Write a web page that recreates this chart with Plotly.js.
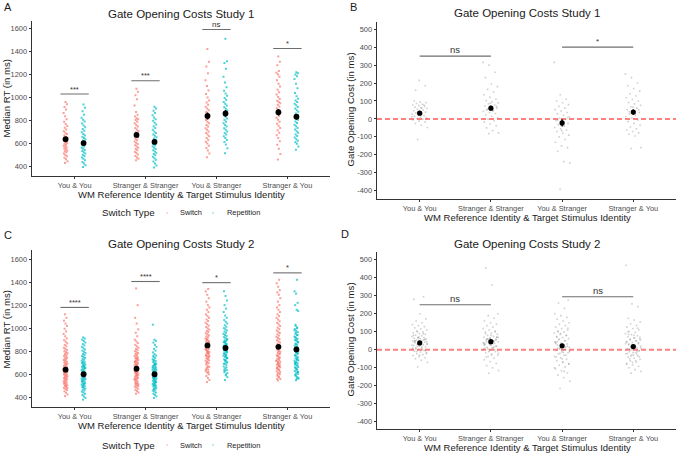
<!DOCTYPE html>
<html>
<head>
<meta charset="utf-8">
<script src="https://cdn.plot.ly/plotly-3.0.1.min.js"></script>
<style>
  html, body { margin: 0; padding: 0; background: #ffffff; }
  #chart { width: 677px; height: 453px; }
</style>
</head>
<body>
<div id="chart"></div>
<script>
// ---------- categories and tick labels ----------
const categories = ["You & You", "Stranger & Stranger", "You & Stranger", "Stranger & You"];
const rtTickVals = [400, 600, 800, 1000, 1200, 1400, 1600];
const rtTickText = ["400", "600", "800", "1000", "1200", "1400", "1600"];
const costTickVals = [-400, -300, -200, -100, 0, 100, 200, 300, 400, 500];
const costTickText = ["-400", "-300", "-200", "-100", "0", "100", "200", "300", "400", "500"];

// ---------- Study 1: median RT per participant (ms) ----------
const s1SwitchYY = [432,448,465,478,490,502,515,524,533,541,550,558,566,574,582,590,598,606,615,624,632,641,650,660,671,683,695,708,722,737,752,770,790,812,838,866,896,918,942,960];
const s1RepYY    = [396,412,428,441,455,468,480,492,503,514,525,535,545,555,565,574,583,592,601,610,619,628,638,648,659,671,684,698,712,727,742,758,775,792,808,825,850,880,912,940];
const s1SwitchSS = [456,468,480,492,505,518,530,542,553,564,575,586,597,608,619,630,641,652,663,674,686,698,710,722,735,748,762,776,790,805,812,820,835,850,875,930,985,1020,1050,1075];
const s1RepSS    = [392,410,428,445,460,474,487,499,510,521,532,543,554,564,574,584,594,604,614,624,634,645,656,668,680,693,706,720,735,750,766,782,798,812,826,845,866,885,905,920];
const s1SwitchYS = [482,515,540,562,582,600,616,632,648,663,678,692,706,720,734,748,762,776,790,804,818,832,846,860,875,890,905,920,938,956,975,1000,1030,1060,1100,1150,1210,1270,1310,1420];
const s1RepYS    = [516,560,592,615,632,648,663,678,692,706,720,734,748,762,776,790,804,818,832,846,860,874,888,902,916,930,945,960,978,996,1015,1035,1058,1090,1130,1180,1250,1300,1315,1510];
const s1SwitchSY = [462,510,555,590,620,648,672,694,715,735,754,772,790,808,825,842,858,874,890,906,922,938,950,960,972,988,1005,1025,1045,1068,1095,1120,1150,1180,1200,1215,1230,1280,1310,1355];
const s1RepSY    = [546,575,598,612,625,638,652,666,680,694,708,722,736,750,764,778,792,806,820,834,848,862,876,890,904,918,932,946,960,975,990,1010,1040,1080,1120,1160,1185,1200,1210,1220];

// Study 1: gate opening cost per participant (ms)
const s1CostYY = [-115,-48,-35,-25,-18,-12,-6,-2,2,6,10,14,18,22,26,30,34,38,42,46,50,54,58,62,66,70,74,78,82,86,90,95,100,78,40,12,60,160,185,215];
const s1CostSS = [-82,-78,-65,-50,-38,-28,-18,-10,-2,6,14,22,30,36,42,48,54,60,66,72,78,84,90,96,102,110,120,135,150,165,180,195,230,260,300,315,45,50,70,88];
const s1CostYS = [-392,-245,-238,-180,-160,-150,-130,-115,-100,-90,-80,-70,-62,-55,-48,-40,-32,-25,-18,-10,-3,4,12,20,28,36,44,52,60,70,80,90,100,110,135,315,-20,-5,8,-65];
const s1CostSY = [-165,-160,-95,-85,-78,-70,-62,-55,-45,-35,-25,-15,-5,5,12,20,28,36,44,52,60,68,76,84,92,100,108,118,128,140,155,170,185,200,230,250,30,40,50,65];

// ---------- Study 2: median RT per participant (ms) ----------
const s2SwitchYY = [410,425,440,452,463,473,482,490,498,505,512,519,526,532,538,544,550,556,562,567,572,577,582,587,592,597,602,607,612,617,622,627,632,637,642,647,652,657,662,668,674,680,686,692,698,704,710,717,724,731,738,745,752,760,768,776,784,792,800,810,820,830,842,855,868,882,896,912,930,950,972,995,1020,1040,1065,1090,1120,480,500,520];
const s2RepYY    = [380,395,408,420,431,441,450,459,467,475,482,489,496,503,510,516,522,528,534,540,546,552,558,564,570,576,582,588,594,600,606,612,618,624,630,636,642,648,654,660,666,672,678,684,690,697,704,711,718,726,734,742,750,758,767,776,785,795,805,815,826,838,850,862,875,888,900,910,920,560,575,590,605,620,540,515,495,655,670,700];
const s2SwitchSS = [430,442,454,465,475,484,492,500,508,515,522,529,536,543,550,556,562,568,574,580,586,592,598,604,610,616,622,628,634,640,646,652,658,664,670,676,682,688,694,700,706,712,718,725,732,739,746,753,760,768,776,784,792,800,810,820,830,842,855,870,885,900,930,960,990,1040,1090,1200,1345,560,590,620,650,680,710,740,520,500,600,630];
const s2RepSS    = [395,408,420,431,441,450,458,466,474,481,488,495,502,508,514,520,526,532,538,544,550,556,562,568,574,580,586,592,598,604,610,616,622,628,634,640,646,652,658,664,670,677,684,691,698,706,714,722,730,740,750,762,775,790,805,820,838,855,875,890,900,1030,540,560,580,600,620,500,470,660,690,720,610,590,570,530,510,640,680,760];
const s2SwitchYS = [532,550,568,585,600,614,627,640,652,664,675,686,697,708,718,728,738,748,757,766,775,784,793,802,811,820,829,838,847,856,865,874,883,892,901,910,919,928,937,946,956,966,976,987,998,1010,1022,1035,1048,1062,1076,1090,1105,1120,1140,1160,1180,1200,1230,1260,1290,1320,1340,700,720,740,760,780,800,820,840,860,880,660,640,620,900,760,790,815];
const s2RepYS    = [550,575,598,618,636,652,667,681,694,706,718,729,740,750,760,770,779,788,797,806,815,824,833,842,851,860,869,878,887,896,905,914,923,932,941,950,960,970,980,990,1000,1012,1025,1040,1055,1070,1090,1110,1140,1170,1200,1240,1280,1320,700,720,740,760,780,800,820,840,860,880,900,760,780,800,820,840,860,880,740,720,690,660,630,610,590,640];
const s2SwitchSY = [546,560,574,588,601,614,626,638,650,661,672,683,694,705,715,725,735,745,755,765,775,785,795,805,815,825,835,845,855,865,875,885,895,905,915,925,935,946,957,968,980,992,1005,1018,1032,1046,1060,1075,1090,1105,1120,1140,1160,1180,1200,1230,1260,1290,1310,1330,1360,1390,1420,600,620,640,660,680,700,720,740,760,780,800,650,670,690,710,580,560];
const s2RepSY    = [548,562,576,590,603,616,628,640,652,663,674,685,696,707,717,727,737,747,757,767,777,787,797,807,817,827,837,847,857,867,877,887,897,907,917,928,940,952,965,978,992,1006,1020,1150,1160,1200,1220,1300,1320,1420,600,620,640,660,680,700,720,740,760,780,800,820,840,860,880,900,920,940,960,980,1000,1030,620,650,700,730,590,570,560,690];

// Study 2: gate opening cost per participant (ms)
const s2CostYY = [-95,-70,-58,-50,-44,-38,-32,-27,-22,-17,-12,-8,-4,0,4,8,12,16,20,24,28,31,34,37,40,43,46,49,52,55,58,61,64,67,70,74,78,82,86,90,95,100,105,110,116,122,128,134,140,150,160,172,200,280,295,20,30,40,50,60,70,10,0,-10,-20,35,45,55,65,25,15,5,-5,-30,80,90,100,45,38,50];
const s2CostSS = [-130,-115,-100,-88,-76,-65,-55,-46,-38,-30,-23,-16,-10,-4,2,8,14,20,25,30,35,40,45,50,55,60,65,70,75,80,86,92,98,104,110,118,126,134,142,150,160,175,190,200,360,455,20,30,40,50,60,70,80,10,0,-10,-20,35,45,55,65,25,15,5,-5,-30,90,100,45,38,50,60,70,28,33,48,58,68,12,-40];
const s2CostYS = [-215,-175,-155,-140,-128,-116,-105,-95,-86,-77,-68,-60,-52,-44,-37,-30,-23,-16,-10,-4,2,8,14,20,26,32,38,44,50,56,62,68,74,80,86,92,98,104,110,118,126,134,142,150,160,170,180,190,200,230,260,275,-50,-40,-30,-20,-10,0,10,20,30,40,50,60,-80,-70,70,80,90,-100,-120,100,120,25,35,15,5,-5,-15,45];
const s2CostSY = [-130,-120,-110,-100,-92,-84,-76,-68,-61,-54,-47,-40,-34,-28,-22,-16,-10,-5,0,5,10,15,20,25,30,35,40,45,50,55,60,66,72,78,84,90,96,102,110,118,126,135,145,155,165,175,240,255,470,-60,-50,-40,-30,-20,-10,0,10,20,30,40,-70,-80,50,60,70,80,100,120,25,35,15,5,-5,-15,45,-25,-35,55,65,85];

// ---------- group means and standard errors (ms) ----------
const s1MeanSwitch = [638, 675, 840, 872];
const s1SeSwitch   = [18, 22, 30, 28];
const s1MeanRep    = [605, 615, 862, 833];
const s1SeRep      = [17, 19, 30, 24];
const s1MeanCost   = [32, 60, -22, 38];
const s1SeCost     = [11, 13, 20, 15];
const s2MeanSwitch = [640, 648, 850, 838];
const s2SeSwitch   = [14, 15, 18, 19];
const s2MeanRep    = [600, 600, 828, 815];
const s2SeRep      = [12, 13, 16, 18];
const s2MeanCost   = [38, 45, 22, 18];
const s2SeCost     = [8, 10, 11, 10];

// ---------- significance brackets ----------
const s1RtSigY     = [1030, 1145, 1590, 1425];
const s1RtSigLabel = ["***", "***", "ns", "*"];
const s2RtSigY     = [1180, 1405, 1395, 1480];
const s2RtSigLabel = ["****", "****", "*", "*"];
const costSigPairs = [[1, 2], [3, 4]];
const s1CostSigY     = [350, 400];
const s1CostSigLabel = ["ns", "*"];
const s2CostSigY     = [250, 295];
const s2CostSigLabel = ["ns", "ns"];

// ---------- drawing ----------
const W = 677, H = 453;
const FONT = "Liberation Sans, Arial, Helvetica, sans-serif";
const RED = "#F8766D", TEAL = "#00BFC4";
const px = v => v / W;
const py = v => 1 - v / H;

// deterministic spread of points around a position (golden-ratio sequence)
function spread(i, half) {
  const f = (i * 0.6180339887 + 0.37) % 1;
  return (f - 0.5) * 2 * half;
}

function pointTrace(groups, offset, half, axes, marker, name) {
  const x = [], y = [];
  groups.forEach((vals, c) => {
    vals.forEach((v, i) => { x.push(c + 1 + offset + spread(i, half)); y.push(v); });
  });
  return { type: "scatter", mode: "markers", x, y, xaxis: axes[0], yaxis: axes[1],
           marker, name, showlegend: false, hoverinfo: "y" };
}

function meanTrace(means, ses, offset, axes, size) {
  return { type: "scatter", mode: "markers",
           x: means.map((_, c) => c + 1 + offset), y: means,
           error_y: { type: "data", array: ses, visible: true, color: "#000", thickness: 1.4, width: 0 },
           marker: { color: "#000", size: size },
           xaxis: axes[0], yaxis: axes[1], showlegend: false, hoverinfo: "y" };
}

function bracketTrace(x0, x1, yv, axes) {
  return { type: "scatter", mode: "lines", x: [x0, x1], y: [yv, yv],
           line: { color: "#6e6e6e", width: 1.1 }, xaxis: axes[0], yaxis: axes[1],
           showlegend: false, hoverinfo: "skip" };
}

const DODGE = 0.127;
const ptRed  = { color: RED,  size: 2, symbol: "square", opacity: 0.7, line: { width: 0 } };
const ptTeal = { color: TEAL, size: 2, symbol: "square", opacity: 0.7, line: { width: 0 } };
const ptGray = { color: "#8a8a8a", size: 1.6, symbol: "square", opacity: 0.4, line: { width: 0 } };

const traces = [];
const annotations = [];

// RT panels (A and C)
[
  { axes: ["x", "y"], sw: [s1SwitchYY, s1SwitchSS, s1SwitchYS, s1SwitchSY], rp: [s1RepYY, s1RepSS, s1RepYS, s1RepSY],
    mS: s1MeanSwitch, eS: s1SeSwitch, mR: s1MeanRep, eR: s1SeRep, sigY: s1RtSigY, sigL: s1RtSigLabel },
  { axes: ["x3", "y3"], sw: [s2SwitchYY, s2SwitchSS, s2SwitchYS, s2SwitchSY], rp: [s2RepYY, s2RepSS, s2RepYS, s2RepSY],
    mS: s2MeanSwitch, eS: s2SeSwitch, mR: s2MeanRep, eR: s2SeRep, sigY: s2RtSigY, sigL: s2RtSigLabel }
].forEach(p => {
  traces.push(pointTrace(p.sw, -DODGE, 0.028, p.axes, ptRed, "Switch"));
  traces.push(pointTrace(p.rp, DODGE, 0.028, p.axes, ptTeal, "Repetition"));
  traces.push(meanTrace(p.mS, p.eS, -DODGE, p.axes, 5.8));
  traces.push(meanTrace(p.mR, p.eR, DODGE, p.axes, 5.8));
  p.sigY.forEach((v, c) => {
    traces.push(bracketTrace(c + 1 - 0.2, c + 1 + 0.2, v, p.axes));
    annotations.push({ xref: p.axes[0], yref: p.axes[1], x: c + 1, y: v, yanchor: "bottom", yshift: -1.5,
                       text: p.sigL[c], showarrow: false, font: { family: FONT, size: p.sigL[c] === "ns" ? 8 : 7.5, color: "#333" } });
  });
});

// Cost panels (B and D)
[
  { axes: ["x2", "y2"], pts: [s1CostYY, s1CostSS, s1CostYS, s1CostSY], m: s1MeanCost, e: s1SeCost, sigY: s1CostSigY, sigL: s1CostSigLabel },
  { axes: ["x4", "y4"], pts: [s2CostYY, s2CostSS, s2CostYS, s2CostSY], m: s2MeanCost, e: s2SeCost, sigY: s2CostSigY, sigL: s2CostSigLabel }
].forEach(p => {
  traces.push(pointTrace(p.pts, 0, 0.11, p.axes, ptGray, "Cost"));
  traces.push(meanTrace(p.m, p.e, 0, p.axes, 5.2));
  costSigPairs.forEach((pair, k) => {
    traces.push(bracketTrace(pair[0], pair[1], p.sigY[k], p.axes));
    annotations.push({ xref: p.axes[0], yref: p.axes[1], x: (pair[0] + pair[1]) / 2, y: p.sigY[k], yanchor: "bottom", yshift: -1,
                       text: p.sigL[k], showarrow: false, font: { family: FONT, size: p.sigL[k] === "ns" ? 9.5 : 8, color: "#333" } });
  });
});

function xAxis(d0, d1, anchor) {
  return { domain: [px(d0), px(d1)], anchor, range: [0.4, 4.6], tickmode: "array",
           tickvals: [1, 2, 3, 4], ticktext: categories, showline: true, linecolor: "#333", linewidth: 1,
           ticks: "outside", ticklen: 2, tickwidth: 1, tickcolor: "#333", showgrid: false, zeroline: false,
           tickfont: { family: FONT, size: 7.4, color: "#4d4d4d" }, fixedrange: true };
}
function yAxis(top, bottom, range, vals, text, anchor) {
  return { domain: [py(bottom), py(top)], anchor, range, tickmode: "array", tickvals: vals, ticktext: text,
           showline: true, linecolor: "#333", linewidth: 1, ticks: "outside", ticklen: 2.5, tickwidth: 1,
           tickcolor: "#333", showgrid: false, zeroline: false,
           tickfont: { family: FONT, size: 7.4, color: "#4d4d4d" }, fixedrange: true };
}

const AX = { l: 32, r: 330 }, BX = { l: 377, r: 676 };

// panel titles, letters and axis titles
function label(text, xpx, ypx, size, extra) {
  annotations.push(Object.assign({ xref: "paper", yref: "paper", x: px(xpx), y: py(ypx), text, showarrow: false,
                                   xanchor: "center", yanchor: "middle", font: { family: FONT, size, color: "#1a1a1a" } }, extra || {}));
}
label("A", 2, 7, 11, { xanchor: "left" });
label("B", 348, 7, 11, { xanchor: "left" });
label("C", 2, 235, 11, { xanchor: "left" });
label("D", 339, 234, 11, { xanchor: "left" });
label("Gate Opening Costs Study 1", (AX.l + AX.r) / 2, 13.5, 11.5);
label("Gate Opening Costs Study 1", (BX.l + BX.r) / 2, 13, 11.5);
label("Gate Opening Costs Study 2", (AX.l + AX.r) / 2, 244, 11.5);
label("Gate Opening Costs Study 2", (BX.l + BX.r) / 2, 244, 11.5);
const xTitle = "WM Reference Identity &amp; Target Stimulus Identity";
label(xTitle, 181, 194.5, 9.5);
label(xTitle, 527, 217, 9.5);
label(xTitle, 181, 425.5, 9.5);
label(xTitle, 527, 447, 9.5);
label("Median RT (in ms)", 5.5, 98, 9.6, { textangle: -90 });
label("Median RT (in ms)", 5.5, 329, 9.6, { textangle: -90 });
label("Gate Opening Cost (in ms)", 349.5, 110, 9.6, { textangle: -90 });
label("Gate Opening Cost (in ms)", 349.5, 340, 9.6, { textangle: -90 });

// legends under the RT panels
const shapes = [];
[213, 445].forEach(ly => {
  label("Switch Type", 128, ly, 9.8);
  label("Switch", 178, ly, 7.4, { xanchor: "left" });
  label("Repetition", 225, ly, 7.4, { xanchor: "left" });
  [[167, RED], [213, TEAL]].forEach(([lx, col]) => {
    shapes.push({ type: "circle", xref: "paper", yref: "paper", x0: px(lx - 0.9), x1: px(lx + 0.9),
                  y0: py(ly + 0.9), y1: py(ly - 0.9), fillcolor: col, opacity: 0.4, line: { width: 0 } });
  });
});

// dashed zero reference lines on the cost panels
["2", "4"].forEach(k => {
  shapes.push({ type: "line", xref: "x" + k + " domain", yref: "y" + k, x0: 0, x1: 1, y0: 0, y1: 0,
                line: { color: "rgba(255,40,40,0.6)", width: 2, dash: "5px,3px" }, layer: "below" });
});

const layout = {
  width: W, height: H, autosize: false, margin: { l: 0, r: 0, t: 0, b: 0 },
  paper_bgcolor: "#ffffff", plot_bgcolor: "#ffffff", showlegend: false,
  font: { family: FONT },
  xaxis:  xAxis(AX.l, AX.r, "y"),
  yaxis:  yAxis(20.5, 176, [319, 1668], rtTickVals, rtTickText, "x"),
  xaxis2: xAxis(BX.l, BX.r, "y2"),
  yaxis2: yAxis(21.7, 199.3, [-448, 542], costTickVals, costTickText, "x2"),
  xaxis3: xAxis(AX.l, AX.r, "y3"),
  yaxis3: yAxis(250.4, 407, [316, 1675], rtTickVals, rtTickText, "x3"),
  xaxis4: xAxis(BX.l, BX.r, "y4"),
  yaxis4: yAxis(251.7, 429, [-440, 545], costTickVals, costTickText, "x4"),
  annotations, shapes
};

Plotly.newPlot("chart", traces, layout, { displayModeBar: false, staticPlot: true });
</script>
</body>
</html>
